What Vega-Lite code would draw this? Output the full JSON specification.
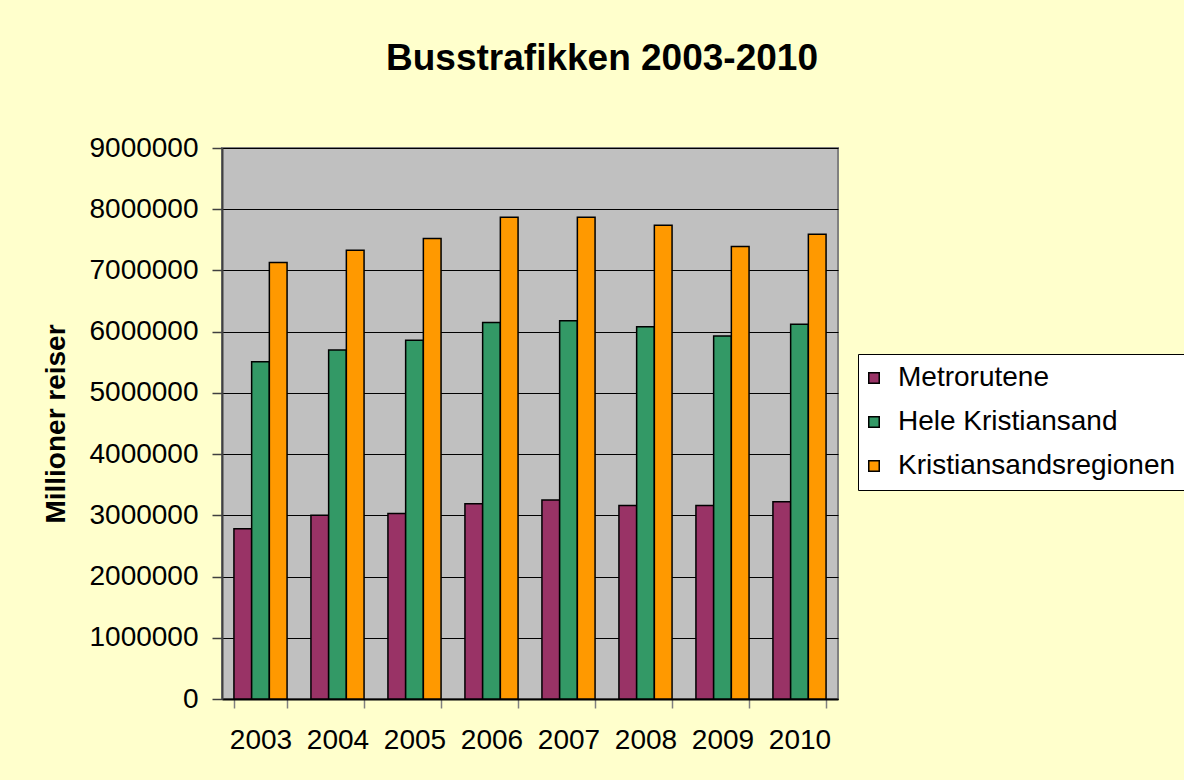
{
  "$schema": "https://vega.github.io/schema/vega-lite/v6.json",
  "width": 616,
  "height": 551,
  "autosize": "none",
  "padding": {"left": 222, "top": 148, "right": 346, "bottom": 81},
  "background": "#FFFFCC",
  "title": {
    "text": "Busstrafikken 2003-2010",
    "font": "Liberation Sans",
    "fontSize": 37,
    "fontWeight": "bold",
    "color": "#000000",
    "anchor": "middle",
    "frame": "group",
    "dx": 72,
    "offset": 56
  },
  "data": {
    "values": [
      {"year": "2003", "serie": "Metrorutene", "reiser": 2780000},
      {"year": "2003", "serie": "Hele Kristiansand", "reiser": 5510000},
      {"year": "2003", "serie": "Kristiansandsregionen", "reiser": 7130000},
      {"year": "2004", "serie": "Metrorutene", "reiser": 3000000},
      {"year": "2004", "serie": "Hele Kristiansand", "reiser": 5700000},
      {"year": "2004", "serie": "Kristiansandsregionen", "reiser": 7330000},
      {"year": "2005", "serie": "Metrorutene", "reiser": 3030000},
      {"year": "2005", "serie": "Hele Kristiansand", "reiser": 5860000},
      {"year": "2005", "serie": "Kristiansandsregionen", "reiser": 7520000},
      {"year": "2006", "serie": "Metrorutene", "reiser": 3190000},
      {"year": "2006", "serie": "Hele Kristiansand", "reiser": 6150000},
      {"year": "2006", "serie": "Kristiansandsregionen", "reiser": 7870000},
      {"year": "2007", "serie": "Metrorutene", "reiser": 3250000},
      {"year": "2007", "serie": "Hele Kristiansand", "reiser": 6180000},
      {"year": "2007", "serie": "Kristiansandsregionen", "reiser": 7870000},
      {"year": "2008", "serie": "Metrorutene", "reiser": 3160000},
      {"year": "2008", "serie": "Hele Kristiansand", "reiser": 6080000},
      {"year": "2008", "serie": "Kristiansandsregionen", "reiser": 7740000},
      {"year": "2009", "serie": "Metrorutene", "reiser": 3160000},
      {"year": "2009", "serie": "Hele Kristiansand", "reiser": 5930000},
      {"year": "2009", "serie": "Kristiansandsregionen", "reiser": 7390000},
      {"year": "2010", "serie": "Metrorutene", "reiser": 3220000},
      {"year": "2010", "serie": "Hele Kristiansand", "reiser": 6120000},
      {"year": "2010", "serie": "Kristiansandsregionen", "reiser": 7590000}
    ]
  },
  "mark": {"type": "bar", "stroke": "#000000", "strokeWidth": 1.5},
  "encoding": {
    "x": {
      "field": "year",
      "type": "nominal",
      "scale": {"paddingInner": 0.31, "paddingOuter": 0.155},
      "axis": {
        "title": null,
        "labelAngle": 0,
        "labelFont": "Liberation Sans",
        "labelFontSize": 28,
        "labelColor": "#000000",
        "labelPadding": 18,
        "tickBand": "extent",
        "tickSize": 9,
        "tickColor": "#808080",
        "tickWidth": 1.5,
        "domainColor": "#000000",
        "domainWidth": 2,
        "grid": false
      }
    },
    "xOffset": {
      "field": "serie",
      "type": "nominal",
      "sort": ["Metrorutene", "Hele Kristiansand", "Kristiansandsregionen"],
      "scale": {"paddingInner": 0, "paddingOuter": 0}
    },
    "y": {
      "field": "reiser",
      "type": "quantitative",
      "scale": {"domain": [0, 9000000], "nice": false},
      "axis": {
        "title": "Millioner reiser",
        "titleFont": "Liberation Sans",
        "titleFontSize": 28,
        "titleFontWeight": "bold",
        "titleColor": "#000000",
        "titlePadding": 18,
        "values": [0, 1000000, 2000000, 3000000, 4000000, 5000000, 6000000, 7000000, 8000000, 9000000],
        "format": "d",
        "labelFont": "Liberation Sans",
        "labelFontSize": 28,
        "labelColor": "#000000",
        "labelPadding": 14,
        "tickSize": 10,
        "tickColor": "#404040",
        "tickWidth": 1.5,
        "domainColor": "#404040",
        "domainWidth": 2,
        "grid": true,
        "gridColor": "#000000",
        "gridWidth": 1.2
      }
    },
    "color": {
      "field": "serie",
      "type": "nominal",
      "scale": {
        "domain": ["Metrorutene", "Hele Kristiansand", "Kristiansandsregionen"],
        "range": ["#993366", "#339966", "#FF9900"]
      },
      "legend": {
        "title": null,
        "orient": "none",
        "legendX": 636,
        "legendY": 206,
        "fillColor": "#FFFFFF",
        "strokeColor": "#000000",
        "padding": 10,
        "symbolType": "square",
        "symbolSize": 110,
        "symbolOffset": -8,
        "symbolStrokeColor": "#000000",
        "symbolStrokeWidth": 1.5,
        "labelFont": "Liberation Sans",
        "labelFontSize": 28,
        "labelColor": "#000000",
        "labelLimit": 400,
        "rowPadding": 16,
        "labelOffset": 10
      }
    }
  },
  "config": {
    "view": {"fill": "#C0C0C0", "stroke": "#808080", "strokeWidth": 2}
  }
}
